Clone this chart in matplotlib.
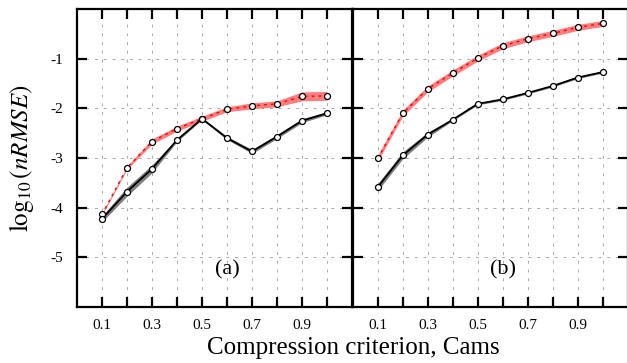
import numpy as np
import matplotlib
matplotlib.use('Agg')
import matplotlib.pyplot as plt

plt.rcParams['font.family'] = ['Liberation Serif', 'DejaVu Serif']
plt.rcParams['mathtext.fontset'] = 'stix'

# data
cams = [0.1, 0.2, 0.3, 0.4, 0.5, 0.6, 0.7, 0.8, 0.9, 1.0]

red_a = [-4.14, -3.20, -2.67, -2.41, -2.21, -2.02, -1.95, -1.91, -1.76, -1.75]
red_a_err = [0.02, 0.03, 0.05, 0.05, 0.05, 0.05, 0.06, 0.06, 0.09, 0.09]
black_a = [-4.23, -3.68, -3.22, -2.64, -2.21, -2.60, -2.87, -2.57, -2.25, -2.10]
black_a_err = [0.06, 0.09, 0.08, 0.03, 0.02, 0.03, 0.04, 0.04, 0.04, 0.03]

red_b = [-3.01, -2.10, -1.61, -1.29, -0.99, -0.74, -0.60, -0.49, -0.37, -0.29]
red_b_err = [0.06, 0.06, 0.06, 0.06, 0.06, 0.06, 0.06, 0.06, 0.06, 0.06]
black_b = [-3.59, -2.95, -2.53, -2.23, -1.91, -1.82, -1.69, -1.55, -1.38, -1.27]
black_b_err = [0.07, 0.07, 0.05, 0.02, 0.02, 0.02, 0.02, 0.02, 0.02, 0.02]

xtick_labels = ['0.1', '', '0.3', '', '0.5', '', '0.7', '', '0.9', '']
yticks = [-5, -4, -3, -2, -1]
yticklabels = ['-5', '-4', '-3', '-2', '-1']

fig = plt.figure(figsize=(6.27, 3.63), dpi=100)
ax_a = fig.add_axes([0.1228, 0.155, 0.4386, 0.820])
ax_b = fig.add_axes([0.5625, 0.155, 0.4386, 0.820])

panels = [
    (ax_a, red_a, red_a_err, black_a, black_a_err, '(a)'),
    (ax_b, red_b, red_b_err, black_b, black_b_err, '(b)'),
]

x = np.array(cams)
for ax, r, re, b, be, tag in panels:
    r, re, b, be = map(np.array, (r, re, b, be))
    ax.fill_between(x, r - re, r + re, color='#ff6666', alpha=0.85, lw=0, zorder=2)
    ax.fill_between(x, b - be, b + be, color='#707070', alpha=0.9, lw=0, zorder=2)
    ax.plot(x, r, color='red', lw=1.0, ls=(0, (2, 3)), zorder=3)
    ax.plot(x, b, color='black', lw=1.3, zorder=3)
    for y in (r, b):
        ax.plot(x, y, ls='none', marker='o', ms=4.3, mfc='white', mec='black', mew=0.9, zorder=4)

    ax.set_xlim(0, 1.1)
    ax.set_ylim(-6, 0)
    ax.set_xticks(cams)
    ax.set_xticklabels(xtick_labels, fontsize=11)
    ax.set_yticks(yticks)
    ax.grid(True, color='#aaaaaa', ls=(0, (3, 6)), lw=0.7)
    ax.tick_params(direction='in', length=7, width=1.6, top=True, right=True, pad=9)
    ax.tick_params(axis='y', pad=10)
    for s in ax.spines.values():
        s.set_linewidth(1.6)
    ax.text(0.6, -5.26, tag, fontsize=16, ha='center', va='center')

ax_a.set_yticklabels(yticklabels, fontsize=11)
ax_b.set_yticklabels([])
ax_a.set_ylabel(r'$\log_{10}(nRMSE)$', fontsize=18, labelpad=10)

fig.text(353 / 627, 15 / 363, 'Compression criterion, Cams', fontsize=18, ha='center', va='center')

plt.savefig('out.png', dpi=100)
